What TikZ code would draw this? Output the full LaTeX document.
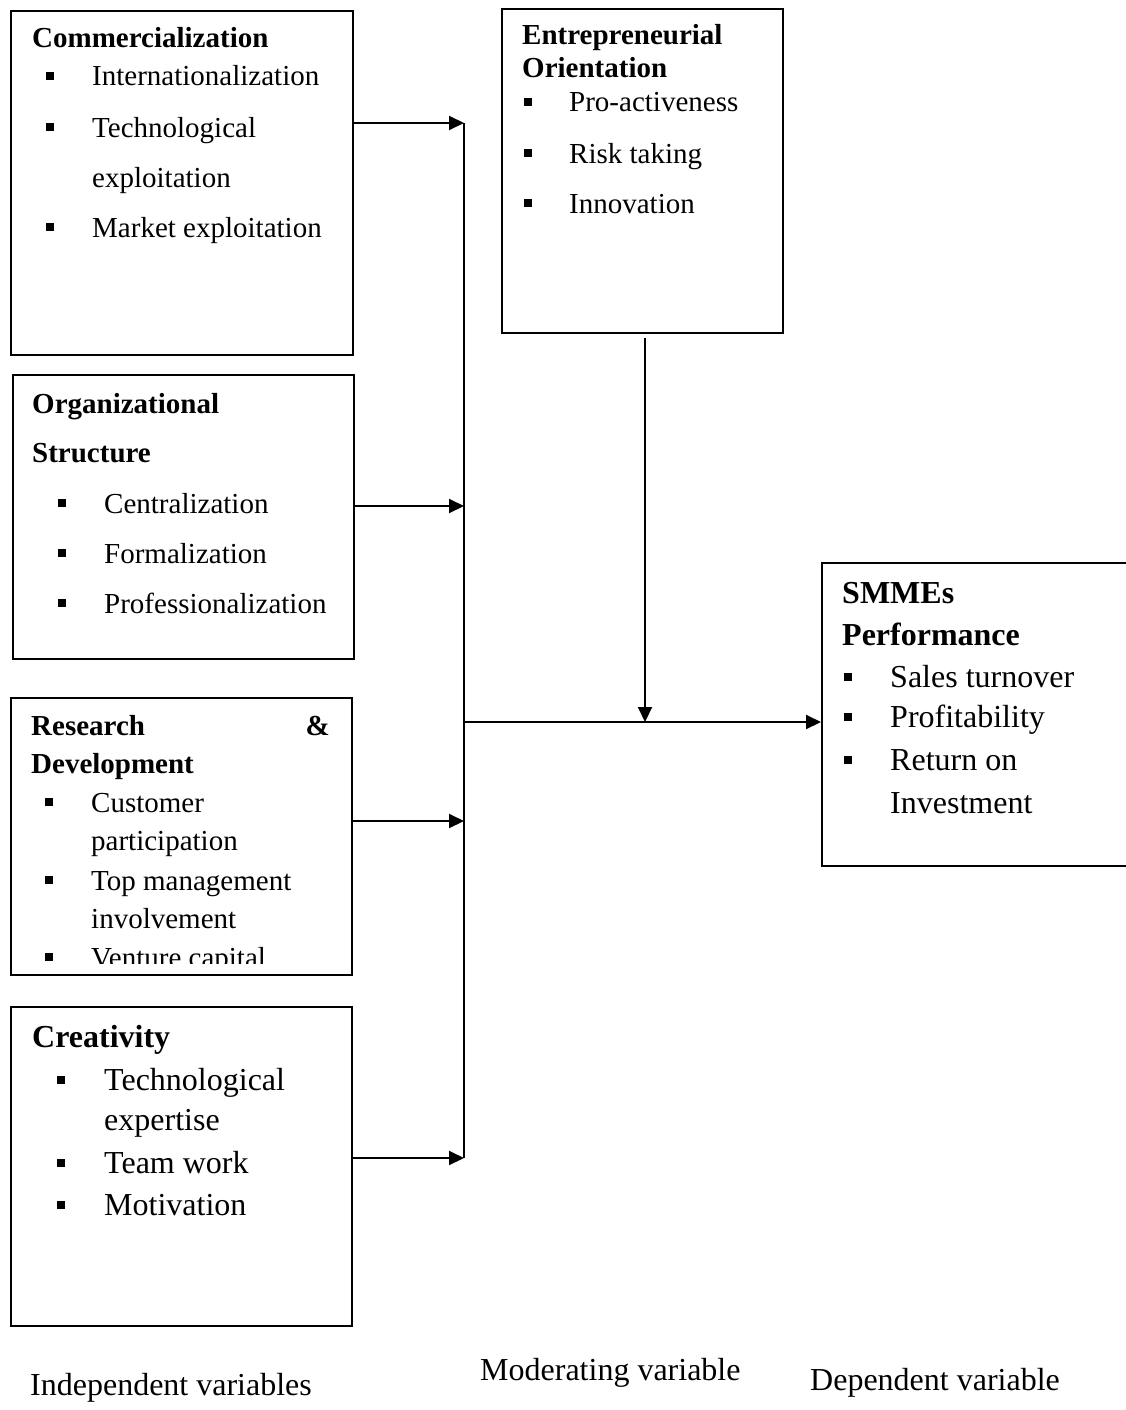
\documentclass[tikz,border=0pt]{standalone}
\usepackage{fontspec}
\setmainfont{Liberation Serif}
\usetikzlibrary{arrows.meta}
\tikzset{
  box/.style={draw=black, line width=1.6pt, anchor=north west, inner sep=0pt},
  txt/.style={anchor=base west, inner sep=0pt, font=\fontsize{29}{34}\selectfont},
  txtb/.style={txt, font=\fontsize{29}{34}\selectfont\bfseries},
  btxt/.style={anchor=base west, inner sep=0pt, font=\fontsize{32}{38}\selectfont},
  btxtb/.style={btxt, font=\fontsize{32}{38}\selectfont\bfseries},
  bul/.style={fill=black, inner sep=0pt, minimum size=8pt, draw=none},
  link/.style={line width=2pt},
  arr/.style={line width=2pt, -{Triangle[length=15pt,width=14pt]}}
}
\begin{document}
\begin{tikzpicture}[x=1pt,y=-1pt]
\useasboundingbox (0,0) rectangle (1125,1410);

% ---------- boxes ----------
\node[box, minimum width=342pt, minimum height=344pt] (comm) at (10,10) {};
\node[box, minimum width=341pt, minimum height=284pt] (org)  at (12,374) {};
\node[box, minimum width=341pt, minimum height=277pt] (rd)   at (10,697) {};
\node[box, minimum width=341pt, minimum height=319pt] (crea) at (10,1006) {};
\node[box, minimum width=281pt, minimum height=324pt] (eo)   at (501,8) {};
\node[box, minimum width=309pt, minimum height=303pt] (smme) at (821,562) {};

% ---------- Commercialization ----------
\node[txtb] (c0) at (32,48) {Commercialization};
\node[bul] (cb1) at (50,76) {}; \node[txt] (c1) at (92,86) {Internationalization};
\node[bul] (cb2) at (50,127) {}; \node[txt] (c2) at (92,137) {Technological};
\node[txt] (c3) at (92,187) {exploitation};
\node[bul] (cb4) at (50,227) {}; \node[txt] (c4) at (92,237) {Market exploitation};

% ---------- Organizational Structure ----------
\node[txtb] (o0) at (32,413) {Organizational};
\node[txtb] (o1) at (32,462) {Structure};
\node[bul] (ob2) at (62,503) {}; \node[txt] (o2) at (104,513) {Centralization};
\node[bul] (ob3) at (62,553) {}; \node[txt] (o3) at (104,563) {Formalization};
\node[bul] (ob4) at (62,603) {}; \node[txt] (o4) at (104,613) {Professionalization};

% ---------- Research & Development ----------
\node[txtb] (r0) at (31,735) {Research};
\node[txtb, anchor=base east] (ramp) at (330,735) {\&};
\node[txtb] (r1) at (31,773) {Development};
\node[bul] (rb2) at (49,802) {}; \node[txt] (r2) at (91,812) {Customer};
\node[txt] (r3) at (91,850) {participation};
\node[bul] (rb4) at (49,880) {}; \node[txt] (r4) at (91,890) {Top management};
\node[txt] (r5) at (91,928) {involvement};
\begin{scope}
  \clip (10,697) rectangle (351,963);
  \node[bul] (rb6) at (49,957) {}; \node[txt] (r6) at (91,967) {Venture capital};
\end{scope}

% ---------- Creativity ----------
\node[btxtb] (k0) at (32,1047) {Creativity};
\node[bul] (kb1) at (61,1080) {}; \node[btxt] (k1) at (104,1090) {Technological};
\node[btxt] (k2) at (104,1130) {expertise};
\node[bul] (kb3) at (61,1163) {}; \node[btxt] (k3) at (104,1173) {Team work};
\node[bul] (kb4) at (61,1205) {}; \node[btxt] (k4) at (104,1215) {Motivation};

% ---------- Entrepreneurial Orientation ----------
\node[txtb] (e0) at (522,45) {Entrepreneurial};
\node[txtb] (e1) at (522,78) {Orientation};
\node[bul] (eb2) at (528,102) {}; \node[txt] (e2) at (569,112) {Pro-activeness};
\node[bul] (eb3) at (528,153) {}; \node[txt] (e3) at (569,163) {Risk taking};
\node[bul] (eb4) at (528,203) {}; \node[txt] (e4) at (569,213) {Innovation};

% ---------- SMMEs Performance ----------
\node[btxtb] (s0) at (842,603) {SMMEs};
\node[btxtb] (s1) at (842,645) {Performance};
\node[bul] (sb2) at (848,677) {}; \node[btxt] (s2) at (890,687) {Sales turnover};
\node[bul] (sb3) at (848,717) {}; \node[btxt] (s3) at (890,727) {Profitability};
\node[bul] (sb4) at (848,760) {}; \node[btxt] (s4) at (890,770) {Return on};
\node[btxt] (s5) at (890,813) {Investment};

% ---------- bottom labels ----------
\node[btxt] (lind) at (30,1395) {Independent variables};
\node[btxt] (lmod) at (480,1380) {Moderating variable};
\node[btxt] (ldep) at (810,1390) {Dependent variable};

% ---------- connectors ----------
\coordinate (j1) at (464,123);
\coordinate (j2) at (464,506);
\coordinate (j3) at (464,821);
\coordinate (j4) at (464,1158);
\coordinate (jm) at (464,722);
\coordinate (mid) at (645,722);

\draw[link] (j1) -- (j4);
\draw[arr] (comm.east |- j1) -- (j1);
\draw[arr] (org.east |- j2) -- (j2);
\draw[arr] (rd.east |- j3) -- (j3);
\draw[arr] (crea.east |- j4) -- (j4);
\draw[arr] (jm) -- (smme.west |- jm);
\draw[arr] ([yshift=-4pt]eo.south -| mid) -- (mid);
\end{tikzpicture}
\end{document}
